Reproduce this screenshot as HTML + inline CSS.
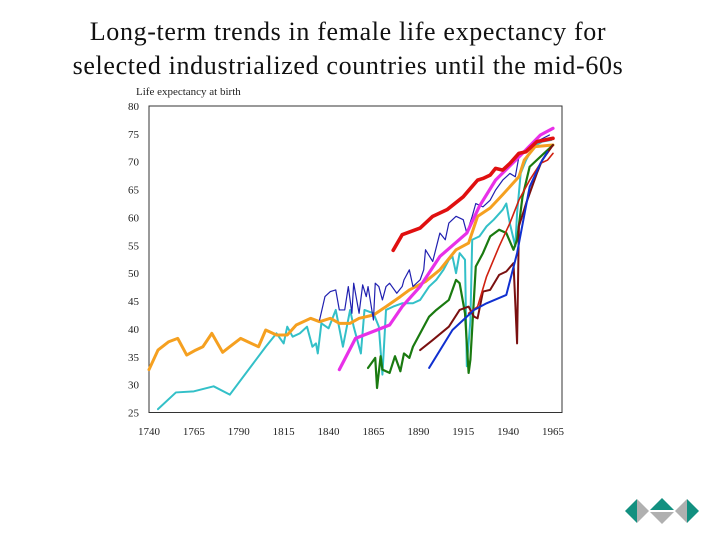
<!DOCTYPE html>
<html><head><meta charset="utf-8"><style>
body{margin:0;background:#fff;width:720px;height:540px;overflow:hidden;font-family:"Liberation Serif",serif}
h1{position:absolute;left:0;width:696px;top:15px;margin:0;text-align:center;font-weight:normal;font-size:26px;letter-spacing:0.65px;line-height:34px;color:#111}
svg{position:absolute;left:0;top:0}
</style></head><body>
<h1>Long-term trends in female life expectancy for<br>selected industrialized countries until the mid-60s</h1>
<svg id="c" width="720" height="540"></svg>
<script>
const xTicks=[1740,1765,1790,1815,1840,1865,1890,1915,1940,1965];
const yTicks=[25,30,35,40,45,50,55,60,65,70,75,80];
const orangeYears=[1740,1745,1751,1756,1761,1766,1770,1775,1781,1785,1791,1795,1801,1805,1811,1817,1822,1830,1835,1841,1846,1852,1857,1865,1872,1880,1885,1894,1902,1911,1918,1923,1930,1937,1946,1949,1955,1965];
const orangeVals=[32.7,36.2,37.7,38.3,35.3,36.2,36.8,39.2,35.8,36.8,38.3,37.7,36.8,39.8,38.9,38.9,40.7,41.9,41.3,41.9,41.0,41.0,41.9,42.5,44.0,45.8,47.0,48.5,50.6,54.2,55.4,60.2,61.7,64.1,67.3,70.3,72.7,73.0];
const tealYears=[1745,1755,1765,1776,1785,1805,1811,1815,1817,1820,1824,1828,1831,1833,1834,1836,1840,1844,1848,1852,1854,1858,1860,1865,1868,1870,1872,1876,1881,1887,1891,1896,1900,1904,1907,1909,1911,1913,1916,1917,1919,1920,1924,1928,1932,1937,1939,1941,1944,1945,1947,1950,1954,1959,1964];
const tealVals=[25.6,28.6,28.8,29.7,28.2,36.8,39.2,37.4,40.4,38.6,39.2,40.4,36.8,37.4,35.6,41.0,40.1,43.4,36.8,43.4,40.4,35.6,43.4,42.8,40.4,31.8,43.4,44.0,44.6,44.6,45.2,47.6,48.8,50.6,52.4,53.0,50.0,53.6,52.4,33.3,41.6,56.0,56.6,58.4,59.6,61.4,62.5,58.9,54.8,60.8,67.9,70.3,72.7,73.6,73.9];
const navyYears=[1835,1838,1841,1844,1846,1849,1851,1853,1854,1857,1859,1861,1862,1865,1866,1868,1870,1872,1874,1878,1881,1882,1885,1887,1891,1893,1894,1898,1902,1905,1907,1911,1915,1917,1920,1922,1926,1930,1933,1937,1941,1944,1946,1954,1963];
const navyVals=[41.6,45.8,46.7,47.0,43.4,43.4,47.6,42.8,48.2,42.8,47.9,45.8,47.6,41.6,48.2,47.6,45.2,47.6,48.2,46.4,47.6,48.8,50.6,47.6,48.8,50.6,54.2,52.1,57.2,56.0,59.0,60.2,59.6,57.2,60.2,62.5,61.9,63.1,64.9,66.7,67.9,67.3,70.9,73.3,74.8];
const magYears=[1846,1855,1874,1881,1891,1902,1917,1924,1933,1948,1958,1965];
const magVals=[32.7,38.3,40.7,44.0,47.6,53.0,57.2,62.0,66.7,71.5,74.8,76.0];
const redYears=[1876,1881,1891,1898,1906,1915,1919,1923,1926,1930,1933,1937,1941,1946,1950,1956,1965];
const redVals=[54.1,56.9,58.1,60.2,61.4,63.7,65.2,66.7,67.0,67.6,68.8,68.5,69.7,71.5,71.8,73.6,74.2];
const greenYears=[1862,1866,1867,1869,1870,1874,1877,1880,1882,1885,1887,1891,1896,1900,1907,1911,1913,1916,1918,1919,1922,1926,1930,1935,1939,1943,1945,1948,1952,1958,1965];
const greenVals=[33.0,34.8,29.4,35.1,32.7,32.1,35.1,32.4,35.6,34.8,36.8,39.2,42.2,43.4,45.2,48.8,48.2,42.8,32.1,34.5,51.2,53.6,56.6,57.8,57.2,54.2,56.0,63.7,69.1,70.9,73.0];
const maroonYears=[1891,1898,1907,1913,1918,1921,1923,1926,1930,1935,1939,1943,1945,1946,1950,1956,1959,1965];
const maroonVals=[36.2,38.0,40.4,43.4,44.0,42.2,41.9,46.7,47.0,49.7,50.3,51.8,37.4,58.4,62.5,67.9,70.3,73.0];
const crimsonYears=[1918,1923,1928,1935,1941,1946,1952,1958,1962,1965];
const crimsonVals=[42.8,44.0,49.4,54.8,59.0,63.1,66.7,69.7,70.3,71.5];
const blueYears=[1896,1909,1921,1928,1939,1945,1952,1958,1962];
const blueVals=[33.0,39.8,43.4,44.6,46.1,53.6,65.5,69.7,71.8];

const NS='http://www.w3.org/2000/svg', svg=document.getElementById('c');
const X0=149,X1=553,Y0=412.5,Y1=106;
const xs=v=>X0+(v-1740)/(1965-1740)*(X1-X0);
const ys=v=>Y0-(v-25)/(80-25)*(Y0-Y1);
function mk(t,a){const e=document.createElementNS(NS,t);for(const k in a)e.setAttribute(k,a[k]);svg.appendChild(e);return e;}
const frame=mk('rect',{x:149,y:106,width:413,height:306.5,fill:'none',stroke:'#333','stroke-width':1});


yTicks.forEach(v=>{const t=mk('text',{x:139,y:ys(v)+4,'text-anchor':'end','font-size':11,fill:'#222'});t.textContent=v;

});
xTicks.forEach(v=>{const t=mk('text',{x:xs(v),y:435,'text-anchor':'middle','font-size':11,fill:'#222'});t.textContent=v;

});
const yt=mk('text',{x:136,y:95,'font-size':11,fill:'#222'});yt.textContent='Life expectancy at birth';


function line(yrs,vals,color,w,name){const p=mk('polyline',{points:yrs.map((y,i)=>xs(y)+','+ys(vals[i])).join(' '),fill:'none',stroke:color,'stroke-width':w,'stroke-linejoin':'round','stroke-linecap':'round'});

}
line(tealYears,tealVals,'#33c0c8',2,'series-teal');
line(orangeYears,orangeVals,'#f5a020',3,'series-orange');
line(navyYears,navyVals,'#2020b0',1.2,'series-navy');
line(greenYears,greenVals,'#1a7a10',2.2,'series-green');
line(maroonYears,maroonVals,'#7a1010',2,'series-maroon');
line(crimsonYears,crimsonVals,'#d02010',1.6,'series-crimson');
line(blueYears,blueVals,'#1030d0',2,'series-blue');
line(magYears,magVals,'#e830e8',3.2,'series-magenta');
line(redYears,redVals,'#e01010',3.6,'series-red');
</script>
<svg width="720" height="540" style="position:absolute;left:0;top:0">
<polygon points="625,511 637,499 637,523" fill="#129080"/><polygon points="637,499 649,511 637,523" fill="#b0b0b0"/>
<polygon points="650,510 662,498 674,510" fill="#129080"/><polygon points="650,512 674,512 662,524" fill="#b0b0b0"/>
<polygon points="675,511 687,499 687,523" fill="#b0b0b0"/><polygon points="687,499 699,511 687,523" fill="#129080"/>
</svg>
</body></html>
